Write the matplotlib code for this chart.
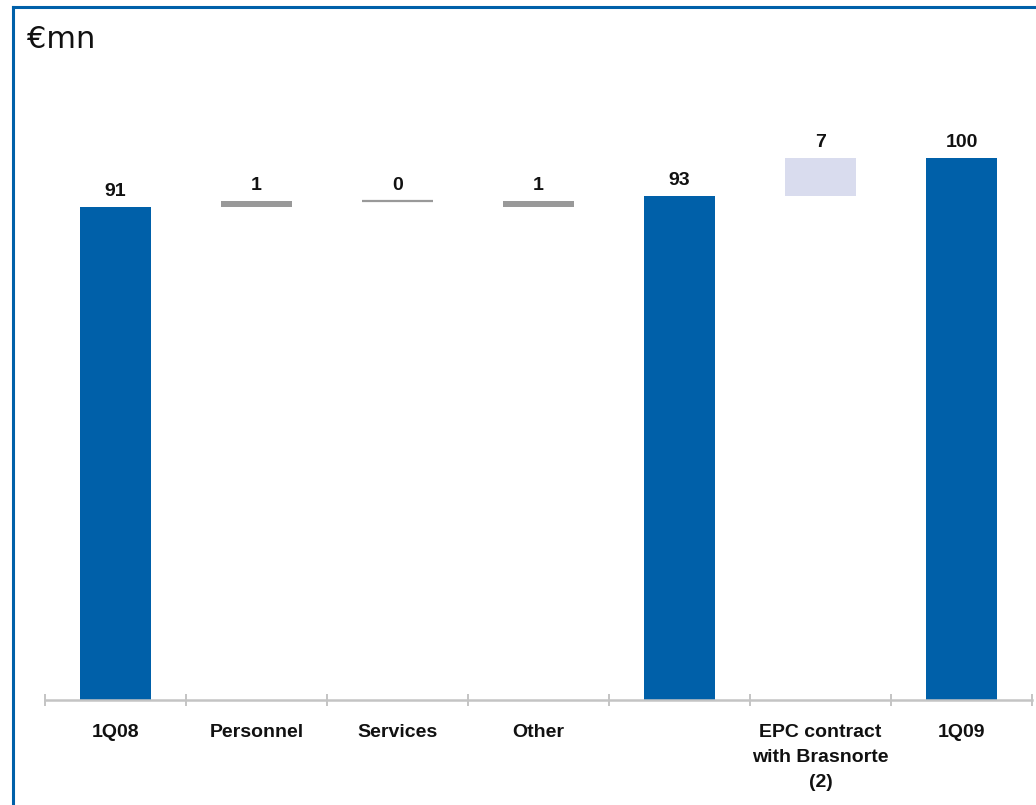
import matplotlib
matplotlib.use("Agg")
import matplotlib.pyplot as plt
import numpy as np

# Waterfall data (€mn)
categories = ["1Q08", "Personnel", "Services", "Other", "",
              "EPC contract\nwith Brasnorte\n(2)", "1Q09"]
values = [91, 1, 0, 1, 93, 7, 100]
bottoms = [0, 91, 92, 91, 0, 93, 0]
kinds = ["total", "step", "step", "step", "total", "highlight", "total"]

BLUE = "#0060A9"
GREY = "#999999"
LAVENDER = "#D9DCEE"
AXIS_GREY = "#C4C4C4"
colors = {"total": BLUE, "step": GREY, "highlight": LAVENDER}

W, H, DPI = 1036, 805, 100
fig = plt.figure(figsize=(W / DPI, H / DPI), dpi=DPI)
fig.patch.set_facecolor("white")

# Frame around the slide area
fig.add_artist(plt.Line2D([13 / W, 13 / W], [0, 1 - 7.5 / H],
                          transform=fig.transFigure, color=BLUE, lw=2.2))
fig.add_artist(plt.Line2D([13 / W, 1], [1 - 7.5 / H, 1 - 7.5 / H],
                          transform=fig.transFigure, color=BLUE, lw=2.2))

fig.text(27 / W, 1 - 48 / H, "€mn", fontsize=22, family="DejaVu Sans",
         color="#111111", va="baseline", ha="left")

ax_left, ax_right = 45 / W, 1032 / W
ax_bottom = 1 - 700 / H
ymax = 110
px_per_unit = 5.42
ax_height = ymax * px_per_unit / H
ax = fig.add_axes([ax_left, ax_bottom, ax_right - ax_left, ax_height])
ax.set_xlim(-0.5, len(categories) - 0.5)
ax.set_ylim(0, ymax)

x = np.arange(len(categories))
bar_w = 0.5
for xi, v, b, k in zip(x, values, bottoms, kinds):
    if v == 0:
        ax.plot([xi - 0.255, xi + 0.255], [b, b], color=GREY, lw=1.6,
                solid_capstyle="butt")
    else:
        ax.bar(xi, v, bottom=b, width=bar_w, color=colors[k], linewidth=0)
    top = b + v
    ax.annotate(str(v), (xi, top), xytext=(0, 8.0), textcoords="offset points",
                ha="center", va="baseline", fontsize=14, fontweight="bold",
                family="Liberation Sans", color="#111111")

for s in ["top", "right", "left"]:
    ax.spines[s].set_visible(False)
ax.spines["bottom"].set_color(AXIS_GREY)
ax.spines["bottom"].set_linewidth(1.8)
ax.set_yticks([])

ax.set_xticks(x)
ax.set_xticklabels(categories, fontsize=14, fontweight="bold",
                   family="Liberation Sans", color="#111111", linespacing=1.62)
ax.tick_params(axis="x", which="major", length=0, pad=17.5)
ax.set_xticks(np.arange(-0.5, len(categories), 1.0), minor=True)
ax.tick_params(axis="x", which="minor", direction="inout", length=9,
               width=1.4, color=AXIS_GREY)

fig.savefig("out.png", dpi=DPI, facecolor="white")
